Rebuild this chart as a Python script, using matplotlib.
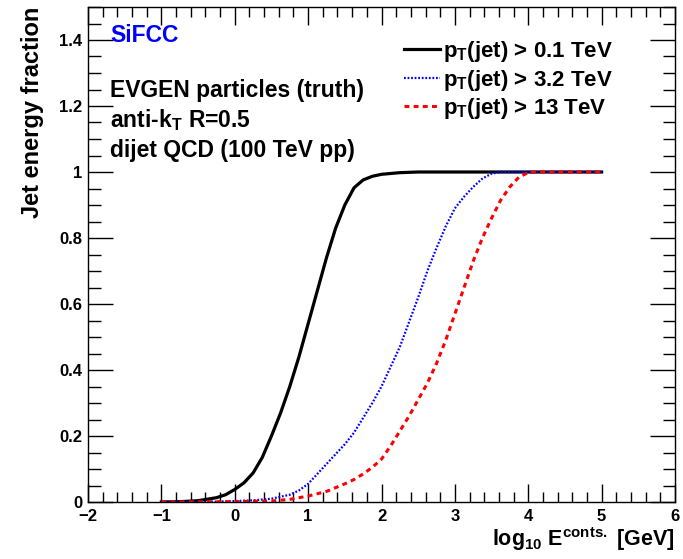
import numpy as np
import matplotlib
matplotlib.use("Agg")
import matplotlib.pyplot as plt
from matplotlib.ticker import MultipleLocator

plt.rcParams['font.family'] = ['Liberation Sans', 'DejaVu Sans']
plt.rcParams['font.weight'] = 'bold'
plt.rcParams['axes.labelweight'] = 'bold'
plt.rcParams['mathtext.default'] = 'regular'

# log10 of constituent energy [GeV] and cumulative jet energy fraction
x_01 = [-1.0, -0.75, -0.5, -0.25, -0.125, 0.0, 0.125, 0.25, 0.375, 0.5, 0.625, 0.75, 0.875,
        1.0, 1.125, 1.25, 1.375, 1.5, 1.625, 1.75, 1.875, 2.0, 2.25, 2.5, 5.0]
frac_01 = [0.0, 0.001, 0.004, 0.013, 0.022, 0.038, 0.058, 0.088, 0.135, 0.2, 0.27, 0.35, 0.44,
           0.54, 0.64, 0.74, 0.83, 0.9, 0.952, 0.976, 0.987, 0.993, 0.998, 1.0, 1.0]

x_32 = [-1.0, -0.25, 0.0, 0.25, 0.5, 0.75, 0.875, 1.0, 1.125, 1.25, 1.375, 1.5, 1.625, 1.75,
        1.875, 2.0, 2.125, 2.25, 2.375, 2.5, 2.625, 2.75, 2.875, 3.0, 3.125, 3.25, 3.375,
        3.5, 3.625, 5.0]
frac_32 = [0.0, 0.001, 0.003, 0.005, 0.01, 0.022, 0.035, 0.055, 0.085, 0.115, 0.145, 0.175,
           0.21, 0.255, 0.3, 0.35, 0.41, 0.47, 0.545, 0.62, 0.7, 0.77, 0.835, 0.89, 0.925,
           0.955, 0.98, 0.995, 1.0, 1.0]

x_13 = [-1.0, 0.0, 0.5, 0.75, 1.0, 1.25, 1.5, 1.625, 1.75, 1.875, 2.0, 2.125, 2.25, 2.375,
        2.5, 2.625, 2.75, 2.875, 3.0, 3.125, 3.25, 3.375, 3.5, 3.625, 3.75, 3.875, 4.0,
        4.125, 5.0]
frac_13 = [0.0, 0.001, 0.003, 0.008, 0.018, 0.032, 0.055, 0.068, 0.085, 0.105, 0.13, 0.17,
           0.215, 0.26, 0.31, 0.36, 0.42, 0.49, 0.57, 0.65, 0.73, 0.8, 0.86, 0.915, 0.955,
           0.985, 0.998, 1.0, 1.0]

labels = ["p$_{T}$(jet) > 0.1 TeV", "p$_{T}$(jet) > 3.2 TeV", "p$_{T}$(jet) > 13 TeV"]
xtick_labels = ["\u22122", "\u22121", "0", "1", "2", "3", "4", "5", "6"]
ytick_labels = ["0", "0.2", "0.4", "0.6", "0.8", "1", "1.2", "1.4"]

fig = plt.figure(figsize=(6.83, 5.59), dpi=100)
ax = fig.add_axes([88/683, 57/559, (675-88)/683, (502-7)/559])

ax.plot(x_01, frac_01, color="black", lw=2.3, label=labels[0])
ax.plot(x_32, frac_32, color="blue", lw=1.6, linestyle=(0, (0.8, 0.8)), label=labels[1])
ax.plot(x_13, frac_13, color="red", lw=2.2, linestyle=(0, (1.6, 1.4)), label=labels[2])

ax.set_xlim(-2, 6)
ax.set_ylim(0, 1.5)
ax.set_xticks(range(-2, 7))
ax.set_xticklabels(xtick_labels)
ax.set_yticks([0, 0.2, 0.4, 0.6, 0.8, 1.0, 1.2, 1.4])
ax.set_yticklabels(ytick_labels)
ax.xaxis.set_minor_locator(MultipleLocator(0.2))
ax.yaxis.set_minor_locator(MultipleLocator(0.05))

ax.tick_params(axis="both", which="both", direction="in", top=True, right=True,
               labelsize=12, width=1)
ax.tick_params(axis="x", which="major", length=13, pad=5)
ax.tick_params(axis="x", which="minor", length=7)
ax.tick_params(axis="y", which="major", length=18, pad=4)
ax.tick_params(axis="y", which="minor", length=9)
for s in ax.spines.values():
    s.set_linewidth(1)

ax.set_xlabel("log$_{10}$ E$^{conts.}$ [GeV]", fontsize=15.5, loc="right", labelpad=1)
ax.set_ylabel("Jet energy fraction", fontsize=17, loc="top", labelpad=11)

txt = dict(transform=ax.transAxes, fontsize=16.5, va="center", ha="left")
ax.text(0.038, 0.943, "SiFCC", color="blue", **txt)
ax.text(0.038, 0.832, "EVGEN particles (truth)", **txt)
ax.text(0.038, 0.772, "anti-k$_{T}$ R=0.5", **txt)
ax.text(0.038, 0.711, "dijet QCD (100 TeV pp)", **txt)

ax.legend(loc="upper left", bbox_to_anchor=(393/683, 1 - 28/559),
          bbox_transform=fig.transFigure, frameon=False, fontsize=16,
          handlelength=1.6, handletextpad=0.15, labelspacing=0.16, borderpad=0)

fig.savefig("out.png", dpi=100)
